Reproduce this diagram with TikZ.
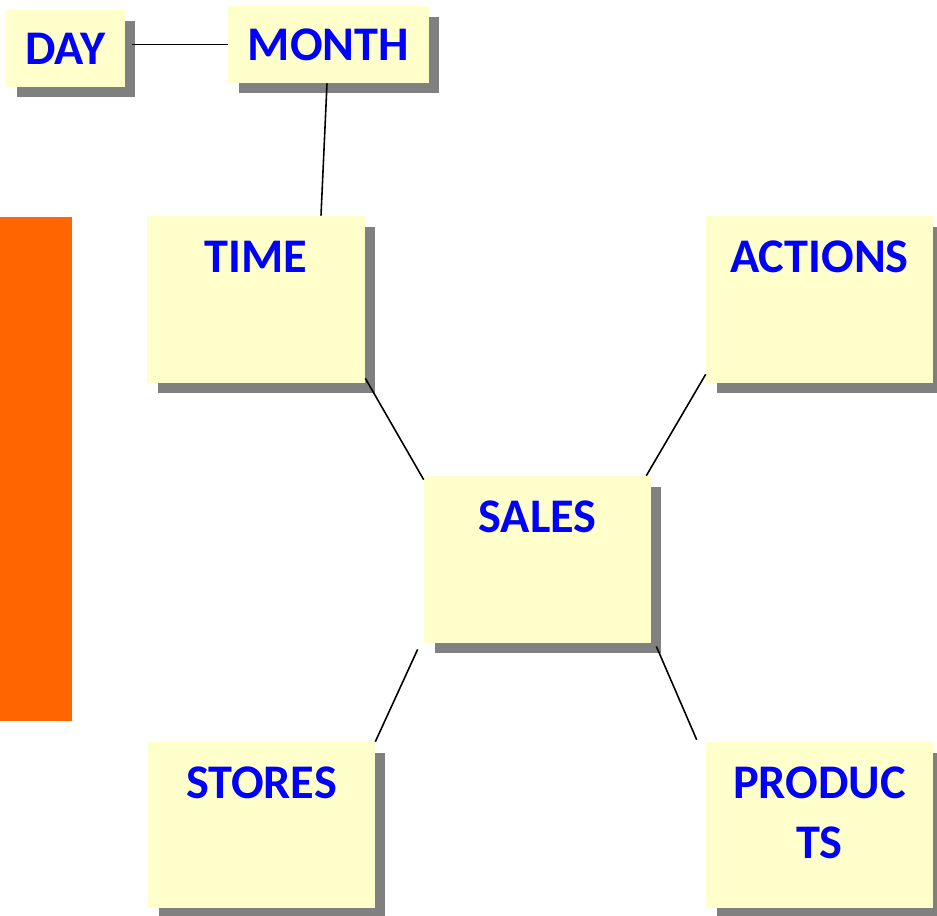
\documentclass[tikz,border=0pt]{standalone}
\usepackage{fontspec}
\setmainfont{Carlito}
\usepackage{tikz}
\usetikzlibrary{shadows}
\definecolor{cardyellow}{RGB}{255,255,204}
\definecolor{cardshadow}{RGB}{128,128,128}
\definecolor{cardblue}{RGB}{0,0,255}
\definecolor{barorange}{RGB}{255,102,0}

\tikzset{
  card/.style={fill=cardyellow, inner sep=0pt, text=cardblue,
    font=\fontsize{27.5}{34}\selectfont\bfseries,
    general shadow={fill=cardshadow, shadow xshift=0.21cm, shadow yshift=-0.21cm}},
  title/.style={anchor=base, align=center, text=cardblue, label distance=-1.13cm,
    font=\fontsize{27.5}{34}\selectfont\bfseries},
  link/.style={black, line width=0.9pt}
}

\begin{document}
\begin{tikzpicture}[x=0.02cm, y=-0.02cm]
\useasboundingbox (0,0) rectangle (937,916);
% Orange side bar
\fill[barorange] (0,217) rectangle (72,721);
% Top row
\node[card, minimum width=2.38cm, minimum height=1.54cm] (day) at (65.5,48.5) {DAY};
\node[card, minimum width=4.02cm, minimum height=1.54cm] (month) at (328.5,44.5) {MONTH};
% Dimensions
\node[card, minimum width=4.36cm, minimum height=3.34cm,
  label={[title]north:TIME}] (time) at (256,299.5) {};
\node[card, minimum width=4.54cm, minimum height=3.34cm,
  label={[title]north:ACTIONS}] (actions) at (819.5,299.5) {};
\node[card, minimum width=4.54cm, minimum height=3.34cm,
  label={[title]north:SALES}] (sales) at (537.5,559.5) {};
\node[card, minimum width=4.54cm, minimum height=3.32cm,
  label={[title]north:STORES}] (stores) at (261.5,825) {};
\node[card, minimum width=4.54cm, minimum height=3.32cm,
  label={[title, yshift=-1.2cm]north:PRODUC\\TS}] (products) at (819.5,825) {};
% Links
\draw[link] ([xshift=0.14cm]day.east |- month.west) -- (month.west);
\draw[link] ([xshift=-0.03cm]month.south) -- ([xshift=1.3cm]time.north);
\draw[link] ([yshift=0.1cm]time.south east) -- ([yshift=-0.08cm]sales.north west);
\draw[link] ([yshift=0.18cm]actions.south west) -- ([xshift=-0.1cm]sales.north east);
\draw[link] ([xshift=-0.12cm, yshift=-0.12cm]sales.south west) -- (stores.north east);
\draw[link] ([xshift=0.1cm, yshift=-0.06cm]sales.south east) -- ([xshift=-0.18cm, yshift=0.04cm]products.north west);
\end{tikzpicture}
\end{document}
